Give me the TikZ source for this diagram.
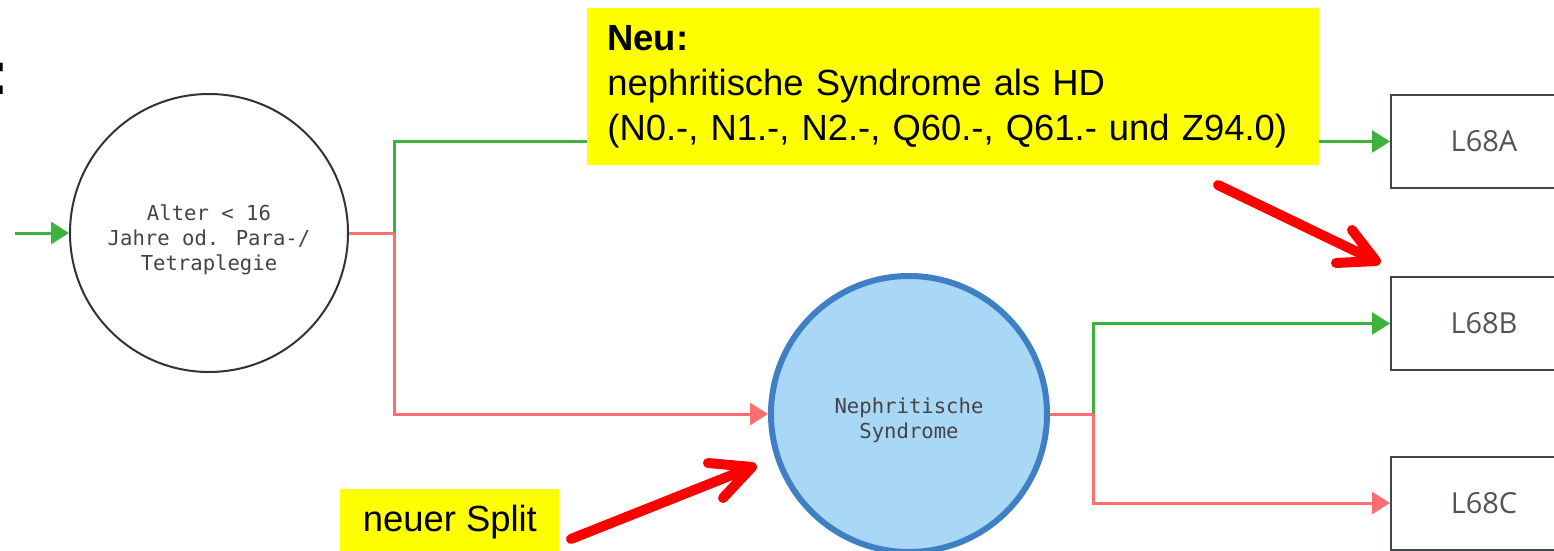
\documentclass[tikz,border=0pt]{standalone}
\usepackage{fontspec}
\setmainfont{Liberation Sans}
\newfontfamily\monof{DejaVu Sans Mono}
\newfontfamily\boxf{Open Sans}
\usetikzlibrary{arrows.meta}
\definecolor{flowgreen}{HTML}{3DB33D}
\definecolor{flowred}{HTML}{FF6E6E}
\definecolor{circfill}{HTML}{A9D8F6}
\definecolor{circline}{HTML}{3F80C4}
\definecolor{boxline}{HTML}{40454B}
\definecolor{boxtext}{HTML}{50555B}
\definecolor{monotext}{HTML}{444444}
\definecolor{noteyellow}{HTML}{FFFF00}
\tikzset{
  tip/.style={-{Triangle[length=9pt,width=11pt]}},
  gline/.style={draw=flowgreen,line width=1.5pt,tip},
  rline/.style={draw=flowred,line width=1.5pt},
  rlinetip/.style={draw=flowred,line width=1.5pt,tip},
  decision/.style={circle,draw=black!80,line width=1pt,minimum size=139pt,inner sep=0pt},
  newdecision/.style={circle,draw=circline,fill=circfill,line width=3pt,minimum size=138pt,inner sep=0pt},
  monolabel/.style={align=center,text=monotext,font=\monof\fontsize{10.3}{12.5}\selectfont},
  result/.style={draw=boxline,line width=1pt,minimum width=93pt,minimum height=46.5pt,anchor=west,inner sep=0pt,
                 text=boxtext,font=\boxf\fontsize{14.5}{17}\selectfont},
  note/.style={fill=noteyellow,inner sep=0pt,font=\fontsize{18.2}{22.5}\selectfont},
  pointer/.style={draw=red,line width=5pt,line cap=round,line join=round}
}
\begin{document}
\begin{tikzpicture}[x=0.5pt,y=-0.5pt]
\useasboundingbox (0,0) rectangle (1554,551);
\clip (0,0) rectangle (1554,551);

% cut-off colon at the left edge
\node[anchor=base east,inner sep=0pt,font=\bfseries\fontsize{31}{31}\selectfont] (colon) at (10,95) {:};

% decision circles
\node[decision,label={[monolabel,yshift=-3.5pt]center:{Alter < 16\\Jahre od. Para-/\\Tetraplegie}}] (c1) at (209,233) {};
\node[newdecision,label={[monolabel,yshift=-3pt]center:{Nephritische\\Syndrome}}] (c2) at (909,414) {};

% result boxes
\node[result] (A) at (1390,141.5) {L68A};
\node[result] (B) at (1390,323.5) {L68B};
\node[result] (C) at (1390,503) {L68C};

% junctions
\coordinate (in) at (15,233);
\coordinate (j1) at (394,233);
\coordinate (j2) at (1093,414);

% connectors
\draw[gline] (in) -- (c1.west);
\draw[gline] (j1) |- (A.west);
\draw[rlinetip] (j1) |- (c2.west);
\draw[rline] (c1.east) -- (j1);
\draw[gline] (j2) |- (B.west);
\draw[rlinetip] (j2) |- (C.west);
\draw[rline] (c2.east) -- (j2);

% yellow notes
\node[note,anchor=north west,minimum width=366pt,minimum height=78.5pt,
      text width=346pt,inner xsep=10pt,align=left] (neu) at (587,8)
  {\textbf{Neu:}\\nephritische Syndrome als HD\\(N0.-, N1.-, N2.-, Q60.-, Q61.- und Z94.0)};
\node[note,anchor=north west,minimum width=109.5pt,minimum height=33pt] (split) at (340,489) {neuer Split};

% red pointer arrows
\coordinate (p1s) at (1218,185);
\coordinate (p1t) at (1376,261);
\coordinate (p1a) at (1336,263);
\coordinate (p1b) at (1352,230);
\draw[pointer] (p1s) -- (p1t) (p1a) -- (p1t) -- (p1b);
\coordinate (p2s) at (571,539);
\coordinate (p2t) at (752,467);
\coordinate (p2a) at (708,463);
\coordinate (p2b) at (723,498);
\draw[pointer] (p2s) -- (p2t) (p2a) -- (p2t) -- (p2b);
\end{tikzpicture}
\end{document}
